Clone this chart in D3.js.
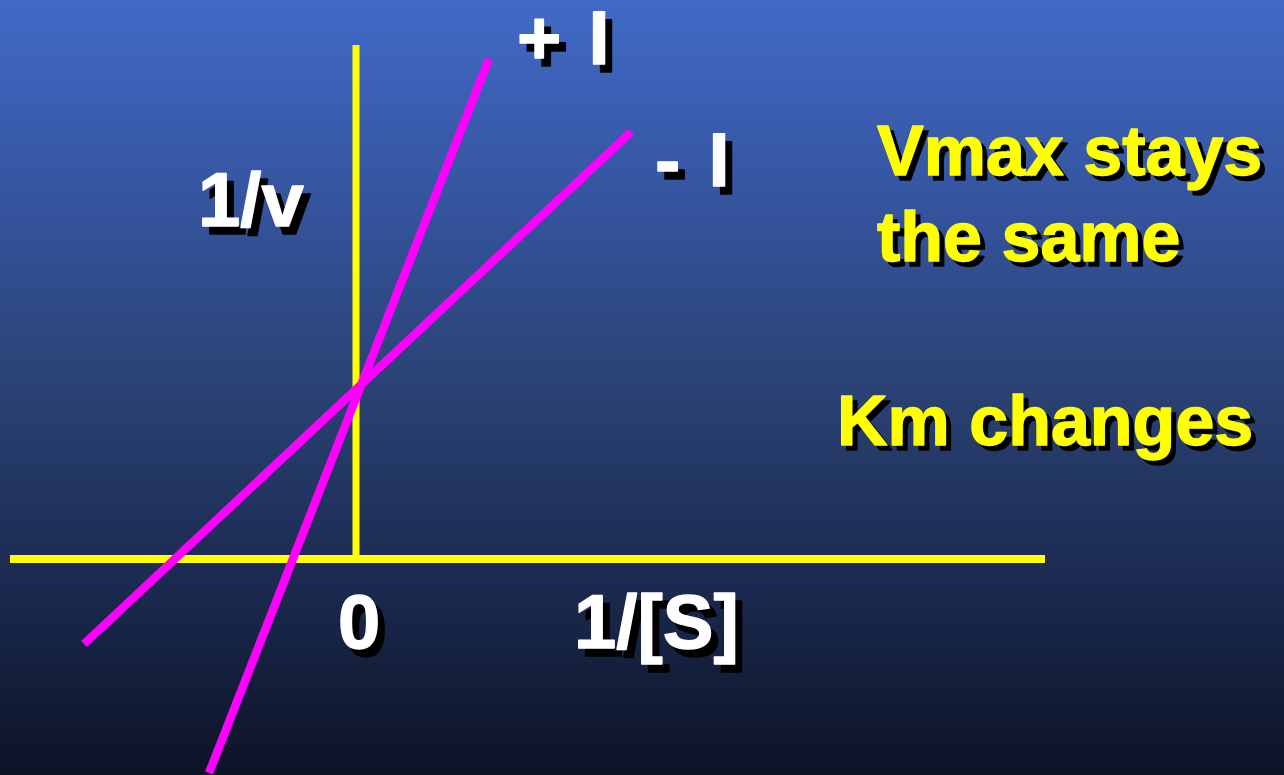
<!DOCTYPE html>
<html>
<head>
<meta charset="utf-8">
<script src="https://cdn.jsdelivr.net/npm/d3@7"></script>
<style>
  html, body { margin: 0; padding: 0; background: #0d1326; }
  svg { display: block; }
  text { font-family: "Liberation Sans", Arial, sans-serif; font-weight: bold; }
</style>
</head>
<body>
<svg id="chart" width="1284" height="775"></svg>
<script>
// ---- data (reciprocal plot units: x = 1/[S], y = 1/v) ----
const xExtent = [-3.46, 6.89];          // horizontal axis extent
const yExtent = [0, 5.14];              // vertical axis extent
const seriesNames = ["- I", "+ I"];
const lineNoInhibitor = [{x: -2.72, y: -0.85}, {x: 2.75, y: 4.27}];
const linePlusInhibitor = [{x: -1.47, y: -2.14}, {x: 1.33, y: 5.00}];
const axisLabels = ["1/v", "1/[S]"];
const tickLabels = ["0"];
const notes = ["Vmax stays", "the same", "Km changes"];

// ---- layout ----
const W = 1284, H = 775;
const svg = d3.select("#chart");

const x = d3.scaleLinear().domain([0, 1]).range([356, 456]);
const y = d3.scaleLinear().domain([0, 1]).range([559, 459]);

// background gradient
const defs = svg.append("defs");
const grad = defs.append("linearGradient").attr("id", "bg")
  .attr("x1", 0).attr("y1", 0).attr("x2", 0).attr("y2", 1);
[[0, "#4169c6"], [0.25, "#3555a0"], [0.5, "#2a4274"], [0.75, "#1b2a50"], [1, "#0d1326"]]
  .forEach(([o, c]) => grad.append("stop").attr("offset", o).attr("stop-color", c));
svg.append("rect").attr("width", W).attr("height", H).attr("fill", "url(#bg)");

// axes
const yellow = "#ffff00";
svg.append("line")
  .attr("x1", x(xExtent[0])).attr("x2", x(xExtent[1]))
  .attr("y1", y(0)).attr("y2", y(0))
  .attr("stroke", yellow).attr("stroke-width", 8);
svg.append("line")
  .attr("x1", x(0)).attr("x2", x(0))
  .attr("y1", y(yExtent[1])).attr("y2", y(yExtent[0]) + 4)
  .attr("stroke", yellow).attr("stroke-width", 7);

// lines
const line = d3.line().x(d => x(d.x)).y(d => y(d.y));
[lineNoInhibitor, linePlusInhibitor].forEach(pts => {
  svg.append("path").attr("d", line(pts))
    .attr("fill", "none").attr("stroke", "#ff00ff")
    .attr("stroke-width", 8.5).attr("stroke-linecap", "butt");
});

// shadowed text helper
function shadowText(str, px, py, size, fill, dx, dy, ws) {
  [["#000", dx, dy], [fill, 0, 0]].forEach(([c, ox, oy]) => {
    svg.append("text").attr("x", px + ox).attr("y", py + oy)
      .attr("font-size", size).attr("fill", c)
      .attr("stroke", c).attr("stroke-width", 1.4).attr("stroke-linejoin", "round")
      .attr("word-spacing", ws || 0)
      .text(str);
  });
}

const white = "#ffffff";
shadowText(axisLabels[0], 198, 226, 76, white, 7, 8);
shadowText(axisLabels[1], 574, 648, 76, white, 7, 8);
shadowText(tickLabels[0], 338, 648, 76, white, 7, 8);
shadowText(seriesNames[1], 517, 64, 76, white, 7, 8, 6);
shadowText(seriesNames[0], 655, 186, 76, white, 7, 8, 7);

shadowText(notes[0], 877, 175, 70, yellow, 5, 5);
shadowText(notes[1], 877, 261, 70, yellow, 5, 5);
shadowText(notes[2], 837, 445, 70, yellow, 5, 5);
</script>
</body>
</html>
